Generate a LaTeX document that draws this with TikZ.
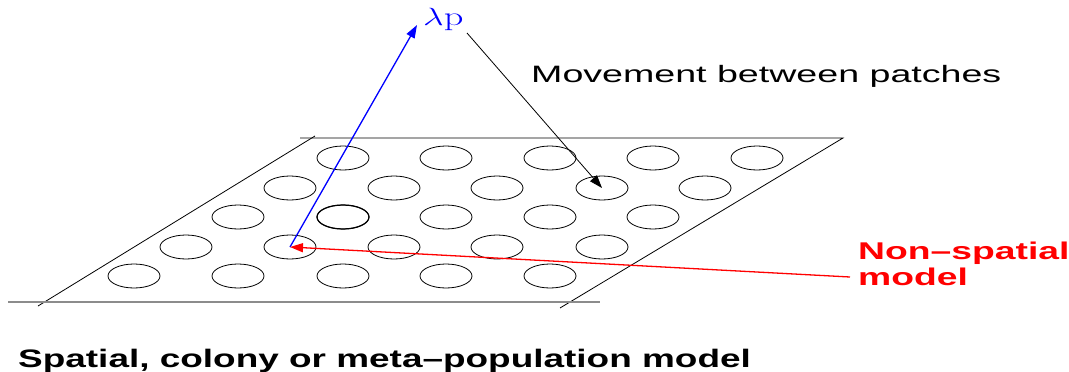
\documentclass[tikz,border=0pt]{standalone}
\usepackage{fontspec}
\usetikzlibrary{shapes.geometric,arrows.meta}
\newfontfamily\arialf{Liberation Sans}
\begin{document}
\begin{tikzpicture}[x=1pt,y=-1pt,
  patch/.style={ellipse,draw,line width=0.8pt,minimum width=52pt,minimum height=24pt,inner sep=0pt},
  edge/.style={line width=0.8pt},
  lbl/.style={inner sep=0pt,anchor=base west},
  tip/.style={-{Triangle[length=13pt,width=9pt]}}]
\useasboundingbox (0,0) rectangle (1069,372);
% patches
\foreach \x [count=\c] in {343,446,550,653,757} \node[patch] (p1\c) at (\x,158) {};
\foreach \x [count=\c] in {290,394,497,602,705} \node[patch] (p2\c) at (\x,188) {};
\foreach \x [count=\c] in {238,343,446,550,653} \node[patch] (p3\c) at (\x,217) {};
\foreach \x [count=\c] in {186,290,394,497,602} \node[patch] (p4\c) at (\x,247) {};
\foreach \x [count=\c] in {134,238,343,446,550} \node[patch] (p5\c) at (\x,276) {};
\node[patch,line width=1.2pt] at (p32) {};
% plane
\coordinate (tl1) at (300,138);
\coordinate (tr) at (843,138);
\coordinate (lt) at (315,136);
\coordinate (lb) at (38,306);
\coordinate (rb) at (560,308);
\coordinate (bl) at (8,302);
\coordinate (br) at (600,302);
\draw[edge] (tl1) -- (tr) -- (rb);
\draw[edge] (lt) -- (lb);
\draw[line width=2pt,black!45] (bl) -- (br);
% labels
\node[lbl] (lam) at (423,25) {\scalebox{1.45}[1]{\fontsize{26.5}{30}\selectfont\color{blue}$\lambda$p}};
\node[lbl] (mov) at (531,82) {\scalebox{1.586}[1]{\arialf\fontsize{23.7}{26}\selectfont Movement between patches}};
\node[lbl] (cap) at (18,367) {\scalebox{1.46}[1]{\arialf\bfseries\fontsize{25.3}{28}\selectfont Spatial, colony or meta–population model}};
\node[lbl,red] (ns1) at (858,259) {\scalebox{1.54}[1]{\arialf\bfseries\fontsize{24.2}{26}\selectfont Non–spatial}};
\node[lbl,red] (ns2) at (858,285) {\scalebox{1.54}[1]{\arialf\bfseries\fontsize{24.2}{26}\selectfont model}};
% connectors
\coordinate (lamin) at (417,25);
\coordinate (lamout) at (467,33);
\coordinate (nsout) at (850,277);
\draw[tip,blue,line width=1.3pt] (p42.center) -- (lamin);
\draw[tip,line width=0.8pt] (lamout) -- (p24.center);
\draw[tip,red,line width=1.3pt] (nsout) -- (p42.center);
\end{tikzpicture}
\end{document}
